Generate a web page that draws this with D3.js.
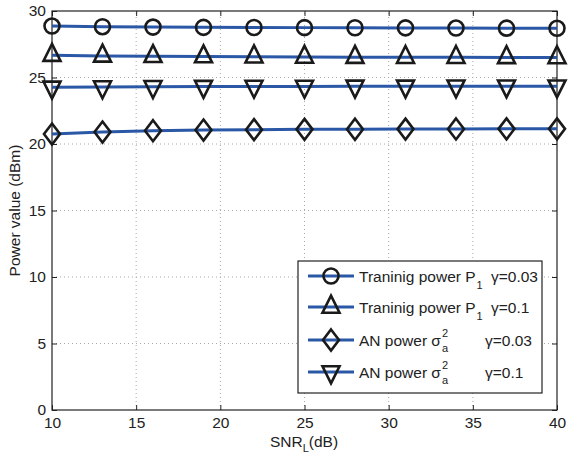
<!DOCTYPE html>
<html>
<head>
<meta charset="utf-8">
<script src="https://cdn.jsdelivr.net/npm/d3@7"></script>
<style>
  body { margin: 0; background: #fff; }
  svg { font-family: "Liberation Sans", Arial, sans-serif; }
</style>
</head>
<body>
<svg id="chart" width="568" height="456"></svg>
<script>
// datos
const snr = [10, 13, 16, 19, 22, 25, 28, 31, 34, 37, 40];
const trainP003 = [28.87, 28.82, 28.79, 28.77, 28.76, 28.75, 28.74, 28.73, 28.72, 28.71, 28.70];
const trainP01 = [26.68, 26.62, 26.59, 26.57, 26.56, 26.54, 26.53, 26.52, 26.52, 26.51, 26.50];
const anP003 = [20.75, 20.90, 21.00, 21.05, 21.08, 21.10, 21.11, 21.12, 21.13, 21.14, 21.14];
const anP01 = [24.26, 24.29, 24.31, 24.32, 24.33, 24.33, 24.34, 24.34, 24.35, 24.35, 24.35];
const xTicks = [10, 15, 20, 25, 30, 35, 40];
const yTicks = [0, 5, 10, 15, 20, 25, 30];

const series = [
  { name: "Traninig power P", sub: "1", gamma: "γ=0.03", gx: 491, values: trainP003, marker: "circle" },
  { name: "Traninig power P", sub: "1", gamma: "γ=0.1", gx: 491, values: trainP01, marker: "up" },
  { name: "AN power σ", sup: "2", subA: "a", gamma: "γ=0.03", gx: 485, values: anP003, marker: "diamond" },
  { name: "AN power σ", sup: "2", subA: "a", gamma: "γ=0.1", gx: 485, values: anP01, marker: "down" }
];

const W = 568, H = 456;
const m = { top: 11, right: 11, bottom: 46, left: 52 };
const svg = d3.select("#chart");

const x = d3.scaleLinear().domain([10, 40]).range([m.left, W - m.right]);
const y = d3.scaleLinear().domain([0, 30]).range([H - m.bottom, m.top]);

const lineColor = "#2a58a6";
const fs = 15.5;     // tamaño de letra principal
const fsSmall = 11;  // sub/superindices

// grid punteado
const grid = svg.append("g");
grid.selectAll("line.gx").data(xTicks.slice(1, -1)).enter().append("line")
  .attr("x1", d => x(d)).attr("x2", d => x(d))
  .attr("y1", y(0)).attr("y2", y(30))
  .attr("stroke", "#a8a8a8").attr("stroke-width", 1).attr("stroke-dasharray", "1,3");
grid.selectAll("line.gy").data(yTicks.slice(1, -1)).enter().append("line")
  .attr("y1", d => y(d)).attr("y2", d => y(d))
  .attr("x1", x(10)).attr("x2", x(40))
  .attr("stroke", "#a8a8a8").attr("stroke-width", 1).attr("stroke-dasharray", "1,3");

// ejes con ticks hacia dentro
const tl = 5;
svg.append("g").attr("transform", `translate(0,${y(0)})`)
  .call(d3.axisBottom(x).tickValues(xTicks).tickSizeInner(-tl).tickSizeOuter(0).tickPadding(7))
  .call(g => g.select(".domain").remove());
svg.append("g").attr("transform", `translate(0,${y(30)})`)
  .call(d3.axisTop(x).tickValues(xTicks).tickSizeInner(-tl).tickSizeOuter(0).tickFormat(""))
  .call(g => g.select(".domain").remove());
svg.append("g").attr("transform", `translate(${x(10)},0)`)
  .call(d3.axisLeft(y).tickValues(yTicks).tickSizeInner(-tl).tickSizeOuter(0).tickPadding(6))
  .call(g => g.select(".domain").remove());
svg.append("g").attr("transform", `translate(${x(40)},0)`)
  .call(d3.axisRight(y).tickValues(yTicks).tickSizeInner(-tl).tickSizeOuter(0).tickFormat(""))
  .call(g => g.select(".domain").remove());

svg.selectAll(".tick line").attr("stroke", "#222").attr("stroke-width", 1);
svg.selectAll(".tick text").attr("font-size", fs).attr("fill", "#222")
  .attr("font-family", "Liberation Sans, Arial, sans-serif");

svg.append("rect")
  .attr("x", x(10)).attr("y", y(30))
  .attr("width", x(40) - x(10)).attr("height", y(0) - y(30))
  .attr("fill", "none").attr("stroke", "#222").attr("stroke-width", 1.2);

// simbolos
function markerPath(type) {
  if (type === "up") return "M0,-11.3L8.5,5.7L-8.5,5.7Z";
  if (type === "down") return "M0,11.3L8.5,-5.7L-8.5,-5.7Z";
  if (type === "diamond") return "M0,-10.5L8,0L0,10.5L-8,0Z";
  return null;
}
function drawMarker(g, type, cx, cy) {
  if (type === "circle") {
    g.append("circle").attr("cx", cx).attr("cy", cy).attr("r", 7.5)
      .attr("fill", "none").attr("stroke", "#1a1a1a").attr("stroke-width", 2.6);
  } else {
    g.append("path").attr("d", markerPath(type))
      .attr("transform", `translate(${cx},${cy})`)
      .attr("fill", "none").attr("stroke", "#1a1a1a").attr("stroke-width", 2.6)
      .attr("stroke-linejoin", "miter");
  }
}

const line = d3.line().x((d, i) => x(snr[i])).y(d => y(d));
const plot = svg.append("g");
series.forEach(s => {
  plot.append("path").datum(s.values)
    .attr("d", line).attr("fill", "none")
    .attr("stroke", lineColor).attr("stroke-width", 3);
  const mg = plot.append("g");
  s.values.forEach((v, i) => drawMarker(mg, s.marker, x(snr[i]), y(v)));
});

// leyenda
const leg = svg.append("g");
leg.append("rect").attr("x", 298).attr("y", 261).attr("width", 244).attr("height", 132)
  .attr("fill", "#fff").attr("stroke", "#222").attr("stroke-width", 1.2);
const rowY = [276, 307, 340, 372];
series.forEach((s, i) => {
  const cy = rowY[i];
  leg.append("line").attr("x1", 308).attr("x2", 354).attr("y1", cy).attr("y2", cy)
    .attr("stroke", lineColor).attr("stroke-width", 3);
  drawMarker(leg, s.marker, 331, cy);
  const t = leg.append("text").attr("x", 359).attr("y", cy + 5.5)
    .attr("font-size", fs).attr("fill", "#222").text(s.name);
  const len = t.node().getComputedTextLength();
  if (s.sub) {
    leg.append("text").attr("x", 359 + len + 1).attr("y", cy + 13)
      .attr("font-size", fsSmall).attr("fill", "#222").text(s.sub);
  }
  if (s.sup) {
    leg.append("text").attr("x", 359 + len + 1).attr("y", cy - 3)
      .attr("font-size", fsSmall).attr("fill", "#222").text(s.sup);
    leg.append("text").attr("x", 359 + len + 1).attr("y", cy + 12)
      .attr("font-size", fsSmall).attr("fill", "#222").text(s.subA);
  }
  leg.append("text").attr("x", s.gx).attr("y", cy + 5.5)
    .attr("font-size", fs).attr("fill", "#222").text(s.gamma);
});

// titulos de ejes
const xl = svg.append("text").attr("x", 304).attr("y", 447)
  .attr("text-anchor", "middle").attr("font-size", fs).attr("fill", "#222");
xl.append("tspan").text("SNR");
xl.append("tspan").attr("font-size", fsSmall).attr("dy", 5).text("L");
xl.append("tspan").attr("dy", -5).text("(dB)");

svg.append("text")
  .attr("transform", `translate(20,${(y(0) + y(30)) / 2}) rotate(-90)`)
  .attr("text-anchor", "middle").attr("font-size", fs).attr("fill", "#222")
  .text("Power value (dBm)");
</script>
</body>
</html>
